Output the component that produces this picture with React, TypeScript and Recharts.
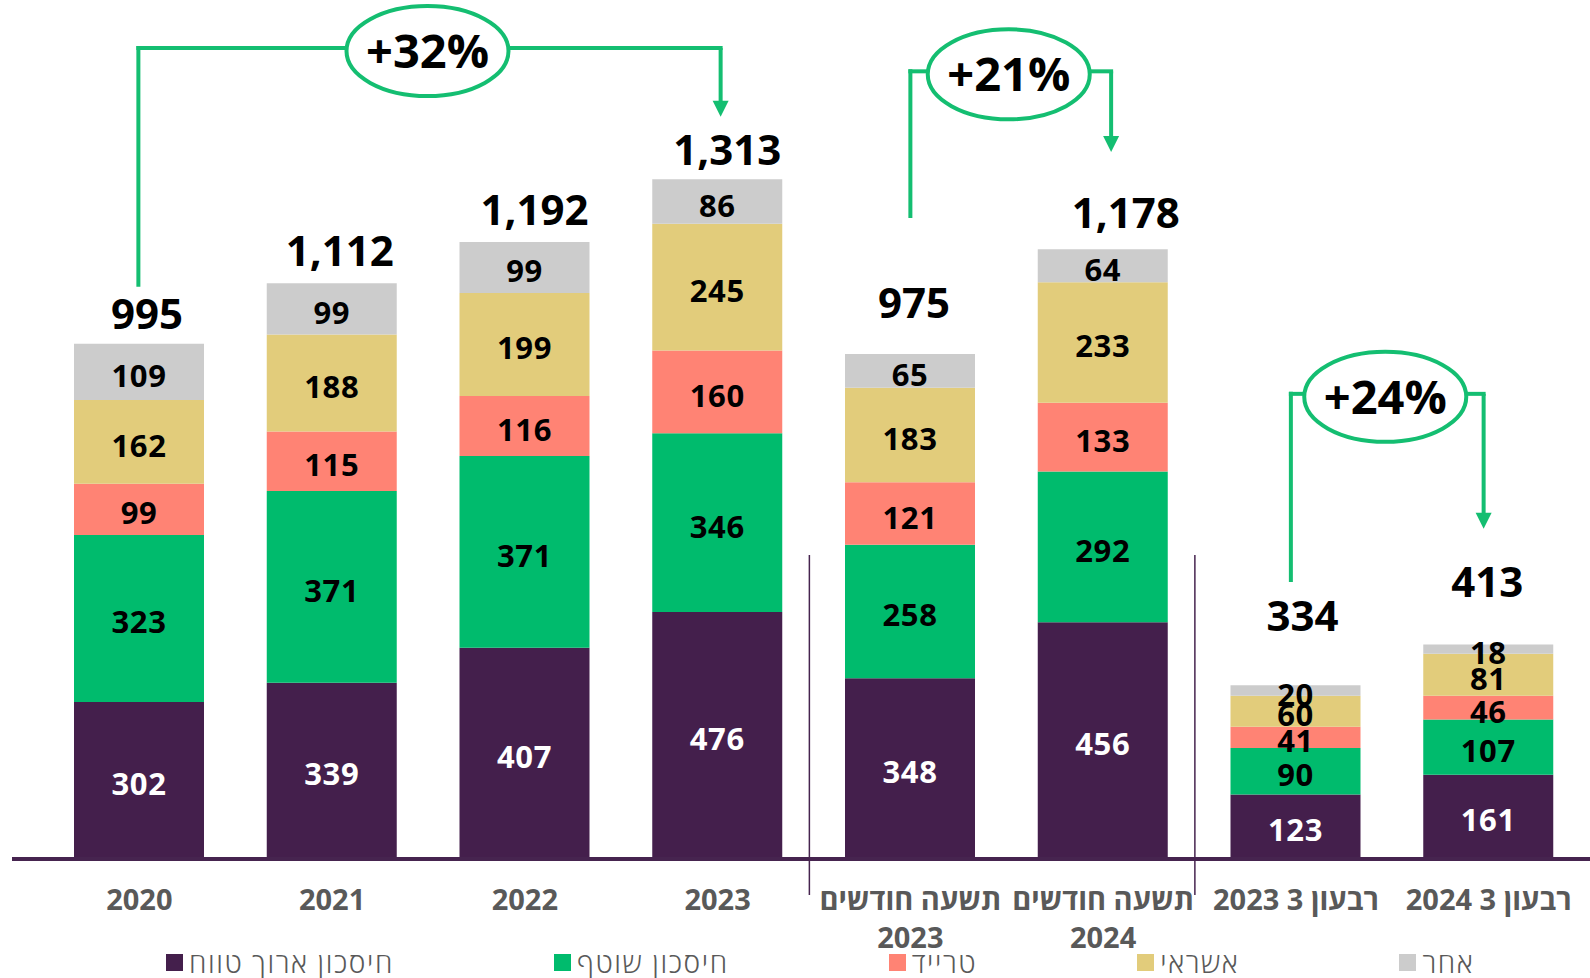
import React from 'react';
import { BarChart, Bar, XAxis, YAxis, LabelList, Legend, ReferenceLine } from 'recharts';

// ---------- data ----------
const categories = [
  '2020',
  '2021',
  '2022',
  '2023',
  'תשעה חודשים 2023',
  'תשעה חודשים 2024',
  'רבעון 3 2023',
  'רבעון 3 2024',
];
const tickLines: string[][] = [
  ['2020'],
  ['2021'],
  ['2022'],
  ['2023'],
  ['תשעה חודשים', '2023'],
  ['תשעה חודשים', '2024'],
  ['רבעון 3 2023'],
  ['רבעון 3 2024'],
];
const longTermSavings = [302, 339, 407, 476, 348, 456, 123, 161];
const jointSavings = [323, 371, 371, 346, 258, 292, 90, 107];
const tradeValues = [99, 115, 116, 160, 121, 133, 41, 46];
const creditValues = [162, 188, 199, 245, 183, 233, 60, 81];
const otherValues = [109, 99, 99, 86, 65, 64, 20, 18];
const totals = [995, 1112, 1192, 1313, 975, 1178, 334, 413];

const seriesNames = ['חיסכון ארוך טווח', 'חיסכון שוטף', 'טרייד', 'אשראי', 'אחר'];

// growth annotations (y values in chart units)
const growthLabels = ['+32%', '+21%', '+24%'];
const growthFrom = ['2020', 'תשעה חודשים 2023', 'רבעון 3 2023'];
const growthTo = ['2023', 'תשעה חודשים 2024', 'רבעון 3 2024'];
const growthLevel = [1567, 1522, 898];
const growthStart = [1105, 1238, 534];
const growthEnd = [1434, 1366, 637];

// ---------- style / layout ----------
const W = 1590;
const H = 978;
const FONT = "'Open Sans', 'Noto Sans', 'DejaVu Sans', sans-serif";
const LINE_GREEN = '#14BE71';
const AXIS_PURPLE = '#46244F';
const colors = ['#441F4C', '#00BB6D', '#FF8374', '#E2CC7B', '#CCCCCC'];
const labelColors = ['#FFFFFF', '#000000', '#000000', '#000000', '#000000'];
const keys = ['longTerm', 'joint', 'trade', 'credit', 'other'];
// [dx, lift above bar top] for the total labels
const totalLabelShift: [number, number][] = [
  [8, 15], [8, 17], [10, 17], [10, 14], [4, 36], [23, 21], [7, 54], [-1, 48],
];
// [left dx, right dx, ellipse dx] for each annotation
const growthShift: [number, number, number][] = [
  [-1, 3, -1],
  [0, 8, 2],
  [-5, -5, -7],
];

const data = categories.map((c, i) => ({
  category: c,
  longTerm: longTermSavings[i],
  joint: jointSavings[i],
  trade: tradeValues[i],
  credit: creditValues[i],
  other: otherValues[i],
  total: totals[i],
}));

const CategoryTick = (props: any) => {
  const { x, y, payload } = props;
  const idx = categories.indexOf(payload.value);
  const lines = tickLines[idx] || [String(payload.value)];
  return (
    <g>
      {lines.map((ln, i) => (
        <text
          key={i}
          x={x}
          y={y + 52 + i * 38}
          textAnchor="middle"
          direction="rtl"
          fill="#595959"
          fontSize={29}
          fontWeight={700}
          fontFamily={FONT}
        >
          {ln}
        </text>
      ))}
    </g>
  );
};

const makeSegmentLabel = (color: string) => (props: any) => {
  const { x, y, width, height, value } = props;
  return (
    <text
      x={Number(x) + Number(width) / 2}
      y={Number(y) + Number(height) / 2 + 15}
      textAnchor="middle"
      fill={color}
      fontSize={31}
      fontWeight={700}
      letterSpacing={0.6}
      fontFamily={FONT}
    >
      {value}
    </text>
  );
};

const TotalLabel = (props: any) => {
  const { x, y, width, value } = props;
  let index = props.index;
  if (index === undefined || index === null) index = totals.indexOf(Number(value));
  const [dx, lift] = totalLabelShift[index] || [0, 15];
  return (
    <text
      x={Number(x) + Number(width) / 2 + dx}
      y={Number(y) - lift}
      textAnchor="middle"
      fontSize={42}
      fontWeight={700}
      fontFamily={FONT}
      fill="#000"
    >
      {Number(value).toLocaleString('en-US')}
    </text>
  );
};

const renderLegend = () => (
  <div
    style={{
      display: 'flex',
      alignItems: 'center',
      gap: 160,
      paddingLeft: 166,
      paddingTop: 8,
      height: 40,
      boxSizing: 'border-box',
      fontFamily: FONT,
      fontSize: 28,
      letterSpacing: 1.6,
      fontWeight: 300,
      color: '#595959',
      whiteSpace: 'nowrap',
    }}
  >
    {seriesNames.map((n, i) => (
      <div key={n} style={{ display: 'flex', alignItems: 'center', gap: 6 }}>
        <span style={{ width: 17, height: 17, background: colors[i], display: 'inline-block' }} />
        <span style={{ lineHeight: '32px' }}>{n}</span>
      </div>
    ))}
  </div>
);

const makeLeftShape = (dx: number) => (p: any) => (
  <line x1={p.x1 + dx} y1={p.y1} x2={p.x2 + dx} y2={p.y2 - 2} stroke={LINE_GREEN} strokeWidth={4} />
);

const makeTopShape = (label: string, ldx: number, rdx: number, edx: number) => (p: any) => {
  const cx = (p.x1 + p.x2) / 2 + edx;
  const cy = p.y1 + 3;
  const rx = 81;
  const ry = 45;
  return (
    <g>
      <line x1={p.x1 + ldx - 2} y1={p.y1} x2={cx - rx} y2={p.y1} stroke={LINE_GREEN} strokeWidth={4} />
      <line x1={cx + rx} y1={p.y2} x2={p.x2 + rdx + 2} y2={p.y2} stroke={LINE_GREEN} strokeWidth={4} />
      <ellipse cx={cx} cy={cy} rx={rx} ry={ry} fill="#fff" stroke={LINE_GREEN} strokeWidth={4} />
      <text x={cx} y={cy + 17} textAnchor="middle" fontSize={47} fontWeight={700} fontFamily={FONT} fill="#000">
        {label}
      </text>
    </g>
  );
};

const makeArrowShape = (dx: number) => (p: any) => {
  const x = p.x1 + dx;
  const tip = p.y2;
  return (
    <g>
      <line x1={x} y1={p.y1} x2={x} y2={tip - 14} stroke={LINE_GREEN} strokeWidth={4} />
      <polygon points={`${x - 8},${tip - 16} ${x + 8},${tip - 16} ${x},${tip}`} fill={LINE_GREEN} />
    </g>
  );
};

const separatorShape = (p: any) => (
  <line x1={p.x1 - 101} y1={p.y1} x2={p.x2 - 101} y2={p.y2 + 37} stroke={AXIS_PURPLE} strokeWidth={1.5} />
);

const baselineShape = (p: any) => (
  <line x1={12} y1={p.y1 + 1} x2={W} y2={p.y2 + 1} stroke={AXIS_PURPLE} strokeWidth={4} />
);

export default function App() {
  return (
    <div style={{ position: 'absolute', left: 0, top: 0, width: W, height: H, background: '#fff' }}>
      <BarChart
        width={W}
        height={H}
        data={data}
        margin={{ top: 0, right: 5, left: 43, bottom: 0 }}
        barSize={130}
      >
        <XAxis
          dataKey="category"
          axisLine={false}
          tickLine={false}
          tickSize={0}
          tickMargin={0}
          height={80}
          interval={0}
          tick={<CategoryTick />}
        />
        <YAxis hide domain={[0, 1660]} allowDataOverflow />
        <Legend
          verticalAlign="bottom"
          align="left"
          height={40}
          wrapperStyle={{ left: 0, width: W, height: 40 }}
          content={renderLegend}
        />
        {keys.map((k, i) => (
          <Bar key={k} dataKey={k} name={seriesNames[i]} stackId="a" fill={colors[i]} isAnimationActive={false}>
            <LabelList dataKey={k} position="center" content={makeSegmentLabel(labelColors[i])} />
            {k === 'other' ? <LabelList dataKey="total" position="top" content={TotalLabel} /> : null}
          </Bar>
        ))}
        <ReferenceLine y={0} ifOverflow="visible" shape={baselineShape} />
        <ReferenceLine
          segment={[{ x: 'תשעה חודשים 2023', y: 586 }, { x: 'תשעה חודשים 2023', y: 0 }]}
          ifOverflow="visible"
          shape={separatorShape}
        />
        <ReferenceLine
          segment={[{ x: 'רבעון 3 2023', y: 586 }, { x: 'רבעון 3 2023', y: 0 }]}
          ifOverflow="visible"
          shape={separatorShape}
        />
        {growthLabels.map((lbl, i) => (
          <ReferenceLine
            key={'l' + i}
            segment={[{ x: growthFrom[i], y: growthStart[i] }, { x: growthFrom[i], y: growthLevel[i] }]}
            ifOverflow="visible"
            shape={makeLeftShape(growthShift[i][0])}
          />
        ))}
        {growthLabels.map((lbl, i) => (
          <ReferenceLine
            key={'r' + i}
            segment={[{ x: growthTo[i], y: growthLevel[i] }, { x: growthTo[i], y: growthEnd[i] }]}
            ifOverflow="visible"
            shape={makeArrowShape(growthShift[i][1])}
          />
        ))}
        {growthLabels.map((lbl, i) => (
          <ReferenceLine
            key={'t' + i}
            segment={[{ x: growthFrom[i], y: growthLevel[i] }, { x: growthTo[i], y: growthLevel[i] }]}
            ifOverflow="visible"
            shape={makeTopShape(lbl, growthShift[i][0], growthShift[i][1], growthShift[i][2])}
          />
        ))}
      </BarChart>
    </div>
  );
}
